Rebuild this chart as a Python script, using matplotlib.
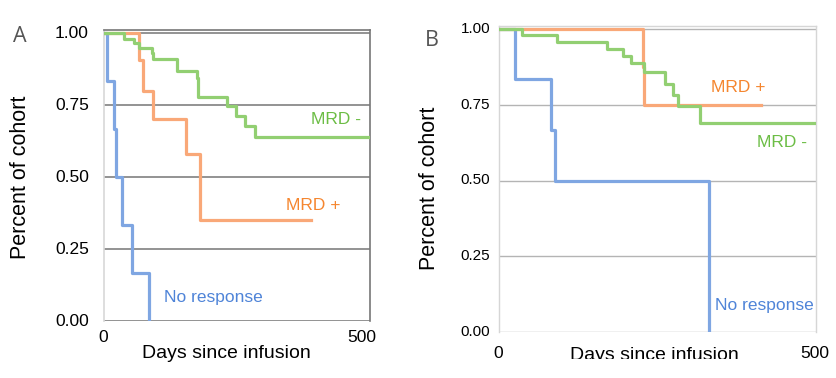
import matplotlib
matplotlib.use("Agg")
import matplotlib.pyplot as plt
from matplotlib.transforms import Bbox

plt.rcParams['font.family'] = ['Liberation Sans', 'DejaVu Sans']

# Panel A: Kaplan-Meier style steps (day, fraction remaining)
a_blue_days = [0, 6, 19, 22, 33, 52, 85]
a_blue_vals = [1.0, 0.833, 0.667, 0.5, 0.333, 0.167, 0.0]
a_orange_days = [0, 66, 74, 93, 155, 180, 390]
a_orange_vals = [1.0, 0.905, 0.80, 0.70, 0.58, 0.35, 0.35]
a_green_days = [0, 38, 57, 66, 90, 93, 137, 174, 177, 231, 249, 265, 284, 500]
a_green_vals = [1.0, 0.98, 0.966, 0.947, 0.929, 0.908, 0.869, 0.843, 0.777,
                0.747, 0.71, 0.677, 0.64, 0.64]

# Panel B
b_blue_days = [0, 25, 82, 89, 332]
b_blue_vals = [1.0, 0.835, 0.669, 0.5, 0.0]
b_orange_days = [0, 227, 229, 413]
b_orange_vals = [1.0, 0.876, 0.75, 0.75]
b_green_days = [0, 37, 91, 171, 196, 208, 229, 262, 275, 283, 317, 500]
b_green_vals = [1.0, 0.981, 0.959, 0.935, 0.912, 0.889, 0.859, 0.821, 0.784,
                0.746, 0.691, 0.691]

y_ticks = [0, 0.25, 0.5, 0.75, 1.0]
y_labels = ['0.00', '0.25', '0.50', '0.75', '1.00']

blue = '#7fa6e2'
orange = '#f9a878'
green = '#92cf72'
blue_txt = '#4f84d8'
orange_txt = '#f5862f'
green_txt = '#6cbd45'

fig = plt.figure(figsize=(8.36, 3.78), dpi=100)
W, H = 836, 378


def px_axes(x0, x1, y0, y1):
    return fig.add_axes([x0 / W, 1 - y1 / H, (x1 - x0) / W, (y1 - y0) / H])


def setup(ax, grid_col, grid_lw, ytop):
    ax.set_xlim(0, 500)
    ax.set_ylim(0, ytop)
    ax.set_xticks([])
    ax.set_yticks([])
    for y in y_ticks:
        ax.axhline(y, color=grid_col, lw=grid_lw, zorder=1)


# ---- panel A ----
axA = px_axes(104, 370, 30, 321)
setup(axA, '#8a8a8a', 1.3, 1.01)
axA.spines['top'].set_color('#777777')
axA.spines['right'].set_color('#777777')
axA.spines['left'].set_color('#d8d8d8')
axA.spines['bottom'].set_visible(False)
for s in axA.spines.values():
    s.set_linewidth(1.2)
axA.step(a_blue_days, a_blue_vals, where='post', color=blue, lw=2.3, zorder=3)
axA.step(a_orange_days, a_orange_vals, where='post', color=orange, lw=2.3, zorder=3)
axA.step(a_green_days, a_green_vals, where='post', color=green, lw=2.3, zorder=4)
axA.text(436, 0.698, 'MRD -', color=green_txt, fontsize=12.5, ha='center', va='center')
axA.text(393, 0.40, 'MRD +', color=orange_txt, fontsize=12.5, ha='center', va='center')
axA.text(205, 0.083, 'No response', color=blue_txt, fontsize=12.5, ha='center', va='center')

for y, lab in zip(y_ticks, y_labels):
    fig.text(89 / W, 1 - (321 - y * 288) / H, lab, fontsize=12.5,
             ha='right', va='center')
fig.text(103 / W, 1 - 338 / H, '0', fontsize=12.5, ha='center', va='center')
fig.text(362 / W, 1 - 338 / H, '500', fontsize=12.5, ha='center', va='center')
fig.text(226 / W, 1 - 353 / H, 'Days since infusion', fontsize=14,
         ha='center', va='center')
fig.text(21 / W, 1 - 177 / H, 'Percent of cohort', fontsize=15.5,
         rotation=90, ha='center', va='center')
fig.text(20 / W, 1 - 36 / H, 'A', fontsize=15.5, color='#555555',
         family=['Open Sans', 'DejaVu Sans'], ha='center', va='center')

# ---- panel B ----
axB = px_axes(499, 816, 26, 332)
setup(axB, '#b4b4b4', 1.0, 1.011)
for s in axB.spines.values():
    s.set_color('#d6d6d6')
    s.set_linewidth(1.0)
axB.spines['bottom'].set_visible(False)
axB.step(b_blue_days, b_blue_vals, where='post', color=blue, lw=2.3, zorder=3)
axB.step(b_orange_days, b_orange_vals, where='post', color=orange, lw=2.3, zorder=3)
axB.step(b_green_days, b_green_vals, where='post', color=green, lw=2.3, zorder=4)
axB.text(378, 0.809, 'MRD +', color=orange_txt, fontsize=12.5, ha='center', va='center')
axB.text(446, 0.627, 'MRD -', color=green_txt, fontsize=12.5, ha='center', va='center')
axB.text(418, 0.089, 'No response', color=blue_txt, fontsize=12.5, ha='center', va='center')

for y, lab in zip(y_ticks, y_labels):
    fig.text(490 / W, 1 - (332 - y * 303) / H, lab, fontsize=11,
             ha='right', va='center')
fig.text(498 / W, 1 - 353 / H, '0', fontsize=12.5, ha='center', va='center')
fig.text(815 / W, 1 - 353 / H, '500', fontsize=12.5, ha='center', va='center')
lab = fig.text(654 / W, 1 - 356 / H, 'Days since infusion', fontsize=14,
               ha='center', va='center')
lab.set_clip_box(Bbox.from_extents(0, 378 - 359, W, H))
fig.text(430 / W, 1 - 188 / H, 'Percent of cohort', fontsize=15.5,
         rotation=90, ha='center', va='center')
fig.text(432 / W, 1 - 40 / H, 'B', fontsize=15.5, color='#555555',
         family=['Open Sans', 'DejaVu Sans'], ha='center', va='center')

fig.savefig('out.png', dpi=100, facecolor='white')
